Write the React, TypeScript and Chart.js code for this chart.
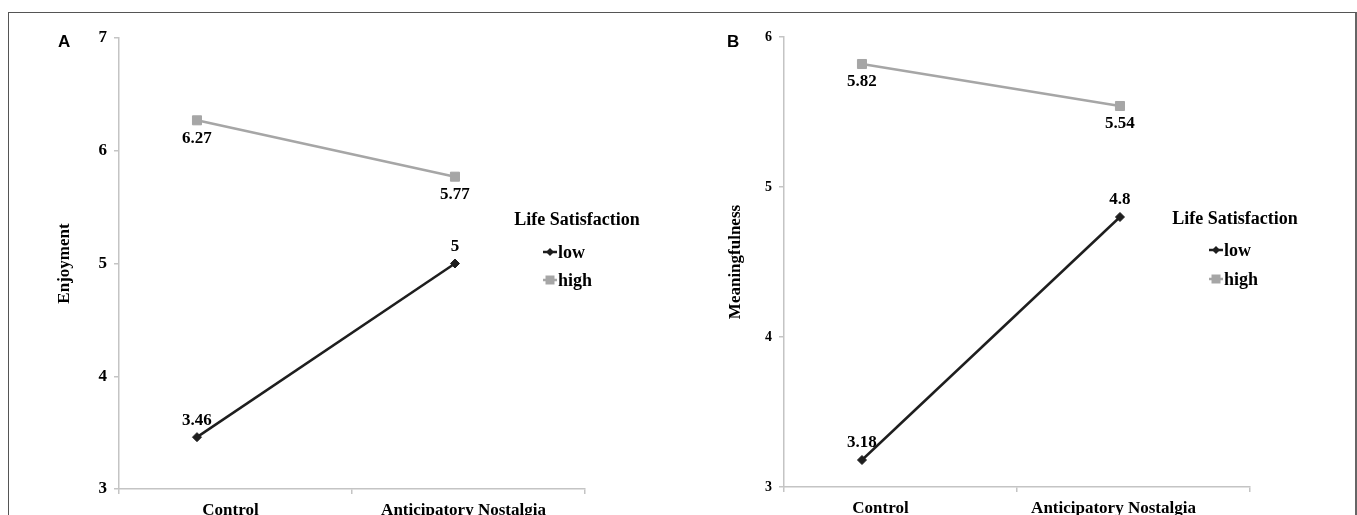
import React, { useEffect, useRef } from "react";
import { Chart, registerables } from "chart.js";

Chart.register(...registerables);

// ---------- data ----------
const conditions = ["Control", "Anticipatory Nostalgia"];
const conditionIndex = [1, 2];
const legendTitle = "Life Satisfaction";
const seriesNames = ["low", "high"];

const enjoymentLow = [3.46, 5];
const enjoymentHigh = [6.27, 5.77];
const enjoymentTicks = [3, 4, 5, 6, 7];

const meaningLow = [3.18, 4.8];
const meaningHigh = [5.82, 5.54];
const meaningTicks = [3, 4, 5, 6];

// ---------- styles ----------
const SERIF = "'Liberation Serif', 'Times New Roman', serif";
const SANS = "'Liberation Sans', Arial, sans-serif";
const LOW_COLOR = "#1e1e1e";
const HIGH_COLOR = "#a6a6a6";
const AXIS_COLOR = "#c4c4c4";
const CANVAS_H = 540;

type Panel = {
  letter: string;
  yTitle: string;
  low: number[];
  high: number[];
  ticks: number[];
  width: number;
  padLeft: number;
  padRight: number;
  padTop: number;
  axisWidth: number;
  axisBottom: number;
  xvMin: number;
  xvMax: number;
  labelOffset: number;
  tickFont: number;
  legend: { titleDx: number; titleY: number; markerDx: number; rows: number[] };
};

const dataLabelPlugin = {
  id: "valueLabels",
  afterDatasetsDraw(chart: any) {
    const ctx = chart.ctx;
    ctx.save();
    ctx.font = `bold 17px ${SERIF}`;
    ctx.fillStyle = "#000";
    ctx.textAlign = "center";
    ctx.textBaseline = "middle";
    chart.data.datasets.forEach((ds: any, i: number) => {
      const meta = chart.getDatasetMeta(i);
      meta.data.forEach((el: any, j: number) => {
        const v = ds.data[j].y;
        const dy = ds.labelAbove ? -17 : 18;
        ctx.fillText(String(v), el.x, el.y + dy);
      });
    });
    ctx.restore();
  },
};

const legendPlugin = {
  id: "lsLegend",
  afterDraw(chart: any) {
    const o = chart.options.plugins.lsLegend;
    if (!o) return;
    const ctx = chart.ctx;
    const area = chart.chartArea;
    ctx.save();
    ctx.fillStyle = "#000";
    ctx.textBaseline = "middle";
    ctx.font = `bold 18px ${SERIF}`;
    ctx.textAlign = "center";
    const tx = area.right + o.titleDx;
    ctx.fillText(o.title, tx, o.titleY);
    chart.data.datasets.forEach((ds: any, i: number) => {
      const y = o.rows[i];
      const x0 = tx + o.markerDx;
      ctx.strokeStyle = ds.borderColor;
      ctx.fillStyle = ds.borderColor;
      ctx.lineWidth = 2.5;
      ctx.beginPath();
      ctx.moveTo(x0, y);
      ctx.lineTo(x0 + 14, y);
      ctx.stroke();
      const cx = x0 + 7;
      ctx.beginPath();
      if (ds.pointStyle === "rectRot") {
        ctx.moveTo(cx, y - 4);
        ctx.lineTo(cx + 4, y);
        ctx.lineTo(cx, y + 4);
        ctx.lineTo(cx - 4, y);
        ctx.closePath();
      } else {
        ctx.rect(cx - 4.5, y - 4.5, 9, 9);
      }
      ctx.fill();
      ctx.fillStyle = "#000";
      ctx.textAlign = "left";
      ctx.fillText(ds.label, x0 + 15, y + 1);
    });
    ctx.restore();
  },
};

function PanelChart({ p, left }: { p: Panel; left: number }) {
  const ref = useRef<HTMLCanvasElement | null>(null);
  useEffect(() => {
    if (!ref.current) return;
    const mk = (vals: number[]) => conditionIndex.map((x, i) => ({ x, y: vals[i] }));
    const chart = new Chart(ref.current, {
      type: "line",
      data: {
        labels: conditions,
        datasets: [
          {
            label: seriesNames[0],
            data: mk(p.low),
            xAxisID: "xv",
            yAxisID: "y",
            borderColor: LOW_COLOR,
            backgroundColor: LOW_COLOR,
            borderWidth: 2.5,
            pointStyle: "rectRot",
            pointRadius: 4.5,
            pointBorderWidth: 1,
            tension: 0,
            labelAbove: true,
          } as any,
          {
            label: seriesNames[1],
            data: mk(p.high),
            xAxisID: "xv",
            yAxisID: "y",
            borderColor: HIGH_COLOR,
            backgroundColor: HIGH_COLOR,
            borderWidth: 2.5,
            pointStyle: "rect",
            pointRadius: 6.4,
            pointBorderWidth: 1,
            tension: 0,
            labelAbove: false,
          } as any,
        ],
      },
      options: {
        responsive: false,
        animation: false,
        events: [],
        layout: { padding: { left: p.padLeft, right: p.padRight, top: p.padTop, bottom: 0 } },
        plugins: {
          legend: { display: false },
          tooltip: { enabled: false },
          lsLegend: { title: legendTitle, ...p.legend },
        } as any,
        scales: {
          x: {
            type: "category",
            position: "bottom",
            offset: true,
            grid: {
              display: true,
              drawOnChartArea: false,
              offset: true,
              tickLength: 5,
              color: AXIS_COLOR,
              lineWidth: 1.5,
            },
            border: { color: AXIS_COLOR, width: 1.5 },
            ticks: {
              color: "#000",
              font: { family: SERIF, size: 17, weight: "bold" },
              padding: 6,
              labelOffset: p.labelOffset,
              maxRotation: 0,
              autoSkip: false,
            },
            afterFit: (s: any) => {
              s.height = CANVAS_H - p.axisBottom;
            },
          },
          xv: {
            type: "linear",
            display: false,
            position: "bottom",
            min: p.xvMin,
            max: p.xvMax,
          },
          y: {
            type: "linear",
            min: p.ticks[0],
            max: p.ticks[p.ticks.length - 1],
            ticks: {
              stepSize: 1,
              color: "#000",
              font: { family: SERIF, size: p.tickFont, weight: "bold" },
              padding: 7,
            },
            afterBuildTicks: (s: any) => {
              s.ticks = p.ticks.map((v) => ({ value: v }));
            },
            grid: {
              drawOnChartArea: false,
              tickLength: 5,
              color: AXIS_COLOR,
              lineWidth: 1.5,
            },
            border: { color: AXIS_COLOR, width: 1.5 },
            title: {
              display: true,
              text: p.yTitle,
              color: "#000",
              font: { family: SERIF, size: 17, weight: "bold" },
              padding: { top: 10, bottom: 0 },
            },
            afterFit: (s: any) => {
              s.width = p.axisWidth;
            },
          },
        } as any,
      },
      plugins: [dataLabelPlugin, legendPlugin],
    });
    return () => chart.destroy();
  }, [p]);
  return (
    <>
      <canvas
        ref={ref}
        width={p.width}
        height={CANVAS_H}
        style={{ position: "absolute", left, top: 0, width: p.width, height: CANVAS_H }}
      />
      <div
        style={{
          position: "absolute",
          left: left + (p.letter === "A" ? 49 : 45),
          top: 20,
          font: `bold 17px ${SANS}`,
          lineHeight: "17px",
          color: "#000",
        }}
      >
        {p.letter}
      </div>
    </>
  );
}

const panelA: Panel = {
  letter: "A",
  yTitle: "Enjoyment",
  low: enjoymentLow,
  high: enjoymentHigh,
  ticks: enjoymentTicks,
  width: 673,
  padLeft: 35,
  padRight: 97,
  padTop: 25,
  axisWidth: 75,
  axisBottom: 476,
  xvMin: 0.6977,
  xvMax: 2.504,
  labelOffset: -5,
  tickFont: 17,
  legend: { titleDx: -8, titleY: 207, markerDx: -34, rows: [239, 267] },
};

const panelB: Panel = {
  letter: "B",
  yTitle: "Meaningfulness",
  low: meaningLow,
  high: meaningHigh,
  ticks: meaningTicks,
  width: 673,
  padLeft: 33,
  padRight: 105,
  padTop: 24,
  axisWidth: 69,
  axisBottom: 474,
  xvMin: 0.6977,
  xvMax: 2.504,
  labelOffset: -20,
  tickFont: 14,
  legend: { titleDx: -15, titleY: 206, markerDx: -26, rows: [237, 266] },
};

export default function App() {
  useEffect(() => {
    document.documentElement.style.overflow = "hidden";
    document.body.style.overflow = "hidden";
  }, []);
  return (
    <div
      style={{
        position: "absolute",
        left: 8,
        top: 12,
        width: 1349,
        height: 503,
        boxSizing: "border-box",
        borderTop: "1px solid #555",
        borderLeft: "1px solid #555",
        borderRight: "2px solid #666",
        overflow: "hidden",
        background: "#fff",
      }}
    >
      <PanelChart p={panelA} left={0} />
      <PanelChart p={panelB} left={673} />
    </div>
  );
}
